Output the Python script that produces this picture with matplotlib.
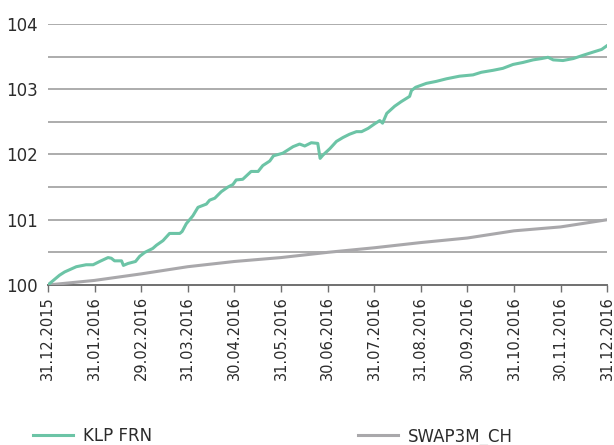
import matplotlib
matplotlib.use("Agg")
import matplotlib.pyplot as plt

# month-end tick labels (x axis is evenly spaced by month)
tick_labels = ["31.12.2015", "31.01.2016", "29.02.2016", "31.03.2016", "30.04.2016",
               "31.05.2016", "30.06.2016", "31.07.2016", "31.08.2016", "30.09.2016",
               "31.10.2016", "30.11.2016", "31.12.2016"]

# KLP FRN: position in months since 31.12.2015, index value
klp_month = [0.00, 0.25, 0.36, 0.61, 0.82, 0.97, 1.11, 1.29, 1.36, 1.43, 1.58, 1.62,
             1.72, 1.88, 1.97, 2.08, 2.25, 2.33, 2.47, 2.61, 2.83, 2.88, 2.97, 3.11,
             3.22, 3.40, 3.47, 3.58, 3.72, 3.86, 3.97, 4.04, 4.18, 4.36, 4.51, 4.61,
             4.76, 4.84, 5.04, 5.26, 5.40, 5.51, 5.65, 5.79, 5.84, 5.90, 6.05, 6.19,
             6.33, 6.47, 6.62, 6.73, 6.87, 7.01, 7.12, 7.18, 7.27, 7.44, 7.58, 7.76,
             7.80, 7.89, 8.12, 8.33, 8.55, 8.83, 9.12, 9.30, 9.55, 9.76, 9.98, 10.19,
             10.41, 10.59, 10.73, 10.84, 11.05, 11.27, 11.48, 11.70, 11.88, 12.00]
klp_value = [100.00, 100.15, 100.20, 100.28, 100.31, 100.31, 100.36, 100.42, 100.41,
             100.37, 100.37, 100.30, 100.33, 100.36, 100.44, 100.50, 100.56, 100.61,
             100.68, 100.79, 100.79, 100.82, 100.94, 101.06, 101.19, 101.24, 101.30,
             101.33, 101.43, 101.50, 101.54, 101.61, 101.62, 101.74, 101.74, 101.83,
             101.90, 101.98, 102.02, 102.12, 102.16, 102.13, 102.18, 102.17, 101.94,
             101.99, 102.09, 102.20, 102.26, 102.31, 102.35, 102.35, 102.40, 102.47,
             102.52, 102.48, 102.63, 102.74, 102.81, 102.89, 102.98, 103.03, 103.09,
             103.12, 103.16, 103.20, 103.22, 103.26, 103.29, 103.32, 103.38, 103.41,
             103.45, 103.47, 103.49, 103.45, 103.44, 103.47, 103.52, 103.57, 103.61,
             103.67]

# SWAP3M_CH benchmark
swap_month = [0, 1, 2, 3, 4, 5, 6, 7, 8, 9, 10, 11, 12]
swap_value = [100.00, 100.07, 100.17, 100.28, 100.36, 100.42, 100.50, 100.57,
              100.65, 100.72, 100.83, 100.89, 101.00]

green = "#6cc4a6"
grey = "#a9a8ab"
text_col = "#2b2b2b"

fig = plt.figure(figsize=(6.14, 4.45), dpi=100)
ax = fig.add_axes([0.078, 0.3596, 0.911, 0.5865])

# grid every 0.5
for yv in [100.5, 101, 101.5, 102, 102.5, 103, 103.5, 104]:
    ax.axhline(yv, color="#a6a6a6", lw=1.3, zorder=1)

ax.plot(swap_month, swap_value, color=grey, lw=2.2, zorder=3, label="SWAP3M_CH")
ax.plot(klp_month, klp_value, color=green, lw=2.2, zorder=4, label="KLP FRN")

ax.set_xlim(0, 12)
ax.set_ylim(100, 104)
ax.set_xticks(range(len(tick_labels)))
ax.set_xticklabels(tick_labels, rotation=90, fontsize=10.5, color=text_col)
ax.set_yticks([100, 101, 102, 103, 104])
ax.set_yticklabels(["100", "101", "102", "103", "104"], fontsize=12, color=text_col)
ax.tick_params(axis="y", length=0, pad=7)
ax.tick_params(axis="x", length=5, width=1, color="#707070", pad=3)

for side in ["top", "right", "left"]:
    ax.spines[side].set_visible(False)
ax.spines["bottom"].set_color("#707070")
ax.spines["bottom"].set_linewidth(1.4)

h, l = ax.get_legend_handles_labels()
fig.legend([h[1], h[0]], [l[1], l[0]], loc="lower left", bbox_to_anchor=(0.03, -0.035),
           ncol=2, frameon=False, fontsize=12, handlelength=2.4, handletextpad=0.6,
           columnspacing=12.3, labelcolor=text_col)

fig.savefig("out.png", dpi=100)
